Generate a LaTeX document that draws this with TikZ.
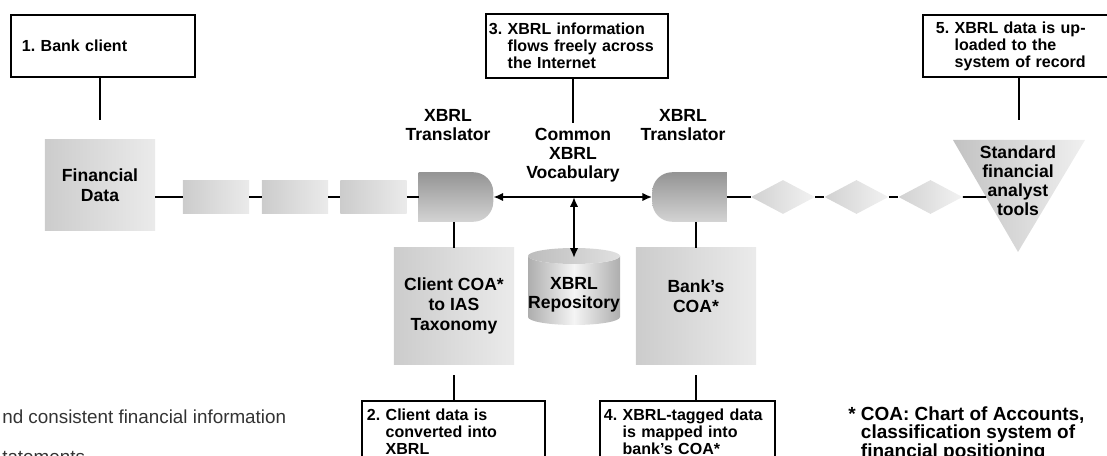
\documentclass[tikz,border=0pt]{standalone}
\usepackage{fontspec}
\setmainfont{Liberation Sans}
\usetikzlibrary{arrows.meta}
\usetikzlibrary{shapes.geometric}
\usetikzlibrary{calc}
\tikzset{
  note/.style={draw,line width=1.6pt,align=left,inner ysep=0pt,
    font=\bfseries\fontsize{11.4}{12}\selectfont},
  panel/.style={inner sep=0pt,align=center,left color=black!20,right color=black!8,
    font=\bfseries\fontsize{12.5}{14}\selectfont},
  gem/.style={diamond,inner sep=0pt,minimum width=1.6cm,minimum height=0.85cm,
    left color=black!18,right color=black!5},
  gate/.style={inner sep=0pt,minimum width=1.85cm,minimum height=1.225cm},
  gateshade/.style={top color=black!42,bottom color=black!17},
  caption/.style={align=center,font=\bfseries\fontsize{12.5}{13.5}\selectfont},
  link/.style={line width=1.4pt}
}
\newcommand{\ind}{\phantom{0.\ }}
\frenchspacing

\begin{document}
\begin{tikzpicture}[x=0.025cm,y=0.025cm,>={Latex[length=7pt,width=6pt]}]
\useasboundingbox (0,0) rectangle (1107,455);
\clip (0,0) rectangle (1107,455);
% numbered steps
\node[note,text width=4.05cm,inner xsep=0.275cm,minimum height=1.55cm] (b1) at (103,409) {1. Bank client};
\node[note,text width=4.4cm,inner xsep=0.075cm,minimum height=1.6cm] (b3) at (577,409)
  {3. XBRL information\\\ind flows freely across\\\ind the Internet};
\node[note,text width=4.075cm,inner xsep=0.325cm,minimum height=1.55cm] (b5) at (1017.5,409)
  {5. XBRL data is up-\\\ind loaded to the\\\ind system of record};
\node[note,text width=4.325cm,inner xsep=0.125cm,minimum height=1.55cm] (b2) at (453.5,23)
  {2. Client data is\\\ind converted into\\\ind XBRL};
\node[note,text width=4.175cm,inner xsep=0.1cm,minimum height=1.55cm] (b4) at (687.5,23)
  {4. XBRL-tagged data\\\ind is mapped into\\\ind bank’s COA*};
% data path
\node[panel,minimum width=2.75cm,minimum height=2.25cm] (fin) at (100,270) {Financial\\Data};
\node[panel,minimum width=1.65cm,minimum height=0.825cm] (s1) at (216,258) {};
\node[panel,minimum width=1.65cm,minimum height=0.825cm] (s2) at (295,258) {};
\node[panel,minimum width=1.65cm,minimum height=0.825cm] (s3) at (373.5,258) {};
\node[gate] (trL) at (456,258) {};
\node[gate] (trR) at (689.5,258) {};
\shade[gateshade] (trL.south west) -- (trL.north west) -- ([xshift=-0.5cm]trL.north east)
  arc[start angle=90,end angle=0,radius=0.5cm] -- ([yshift=0.5cm]trL.south east)
  arc[start angle=0,end angle=-90,radius=0.5cm] -- cycle;
\shade[gateshade] (trR.south east) -- (trR.north east) -- ([xshift=0.5cm]trR.north west)
  arc[start angle=90,end angle=180,radius=0.5cm] -- ([yshift=0.5cm]trR.south west)
  arc[start angle=180,end angle=270,radius=0.5cm] -- cycle;
\node[gem] (d1) at (783,258) {};
\node[gem] (d2) at (856.5,258) {};
\node[gem] (d3) at (930.5,258) {};
\coordinate (ta) at (953,315);
\coordinate (tb) at (1085,315);
\coordinate (tc) at (1018,203);
\coordinate (tm) at ($(ta)!0.5!(tb)$);
\coordinate (tw) at ($(ta)!0.509!(tc)$);
\shade[left color=black!24,right color=black!6] (ta) -- (tb) -- (tc) -- cycle;
\node[caption] (tools) at (1018,274) {Standard\\financial\\analyst\\tools};
% lower boxes and repository
\node[panel,minimum width=3cm,minimum height=2.9cm] (coaL) at (454,149) {Client COA*\\to IAS\\Taxonomy};
\node[panel,minimum width=3cm,minimum height=2.9cm] (coaR) at (696,149) {Bank’s\\COA*\\\mbox{}};
\shade[left color=black!32,right color=black!32,middle color=black!4]
  (528,199) -- (528,138) arc[start angle=180,end angle=360,x radius=46,y radius=8]
  -- (620,199) arc[start angle=0,end angle=-180,x radius=46,y radius=8] -- cycle;
\shade[left color=black!26,right color=black!12] (574,199) ellipse[x radius=46,y radius=8];
\coordinate (repotop) at (574,197);
\node[caption] (repo) at (574,160) {XBRL\\Repository};
% labels
\node[caption] (labL) at (448,330) {XBRL\\Translator};
\node[caption] (labR) at (683,330) {XBRL\\Translator};
\node[caption] (vocab) at (573,300) {Common\\XBRL\\Vocabulary};
% connectors
\draw[link,shorten >=0.5cm] (b1.south -| fin.north) -- (fin.north);
\draw[link] (b3.south -| vocab.north) -- (vocab.north);
\draw[link,shorten >=0.5cm] (b5.south -| tm) -- (tm);
\draw[link] (s1.west -| fin.east) -- (s1.west);
\draw[link] (s1) -- (s2);
\draw[link] (s2) -- (s3);
\draw[link] (s3) -- (trL.west);
\draw[link,<->] (trL) -- (trR);
\draw[link,<->] (trL.east -| repotop) -- (repotop);
\draw[link] (trR.east) -- (d1);
\draw[link] (d1) -- (d2);
\draw[link] (d2) -- (d3);
\draw[link] (d3) -- (tw);
\draw[link] (trL.south -| coaL.north) -- (coaL.north);
\draw[link] (trR.south -| coaR.north) -- (coaR.north);
\draw[link,shorten <=0.275cm] (coaL.south) -- (coaL.south |- b2.north);
\draw[link,shorten <=0.275cm] (coaR.south) -- (coaR.south |- b4.north);
% notes
\node[anchor=north west,align=left,inner sep=0pt,font=\bfseries\fontsize{13.5}{11.8}\selectfont] (coa) at (848,49)
  {* COA: Chart of Accounts,\\\phantom{* }classification system of\\\phantom{* }financial positioning};
\node[anchor=north west,align=left,inner sep=0pt,text=black!80,font=\fontsize{13.4}{28}\selectfont] (intro) at (2,45)
  {nd consistent financial information\\tatements};
\end{tikzpicture}
\end{document}
